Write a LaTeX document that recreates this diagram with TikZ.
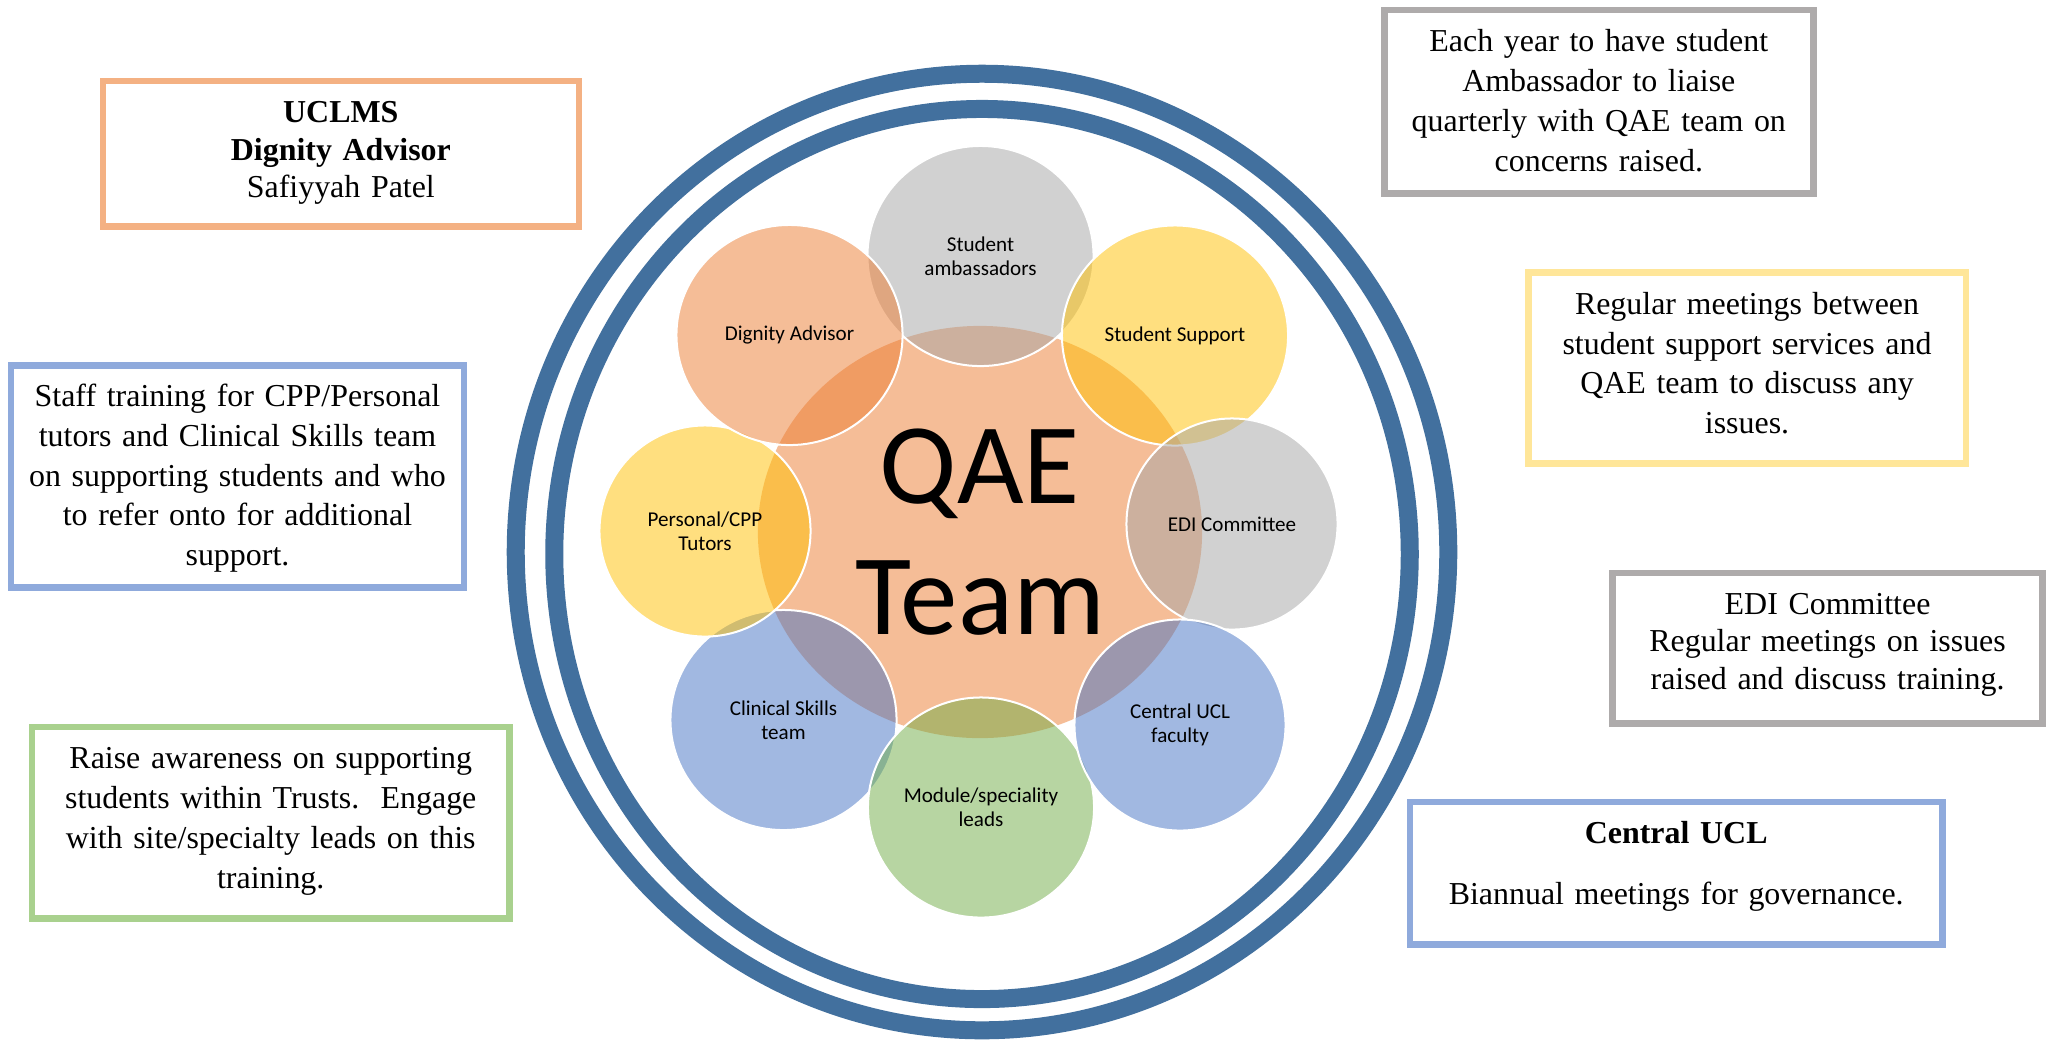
\documentclass[tikz,border=0pt]{standalone}
\usepackage{fontspec}
\usepackage{xcolor}
\usetikzlibrary{shapes.geometric}
\setmainfont{Liberation Serif}
\newfontfamily\carlito{Carlito}

\definecolor{ringblue}{HTML}{42709E}
\definecolor{acorange}{HTML}{ED7D31}
\definecolor{acgray}{HTML}{A5A5A5}
\definecolor{acgold}{HTML}{FFC000}
\definecolor{acblue}{HTML}{4472C4}
\definecolor{acgreen}{HTML}{70AD47}
\definecolor{lineorange}{HTML}{F4B183}
\definecolor{lineblue}{HTML}{8FAADC}
\definecolor{linegreen}{HTML}{A9D18E}
\definecolor{linegray}{HTML}{AEABAB}
\definecolor{lineyellow}{HTML}{FFE699}

\tikzstyle{note box}=[
    draw,
    line width = 1.88pt,
    fill = white,
    inner sep = 0pt,
    align = center,
    text height = 0.415cm,
    font = \fontsize{9.08pt}{11.3pt}\selectfont
]
\tikzstyle{ring}=[
    draw = ringblue,
    line width = 5.12pt
]

\begin{document}
\begin{tikzpicture}[x=0.01cm, y=-0.01cm,
    bubble/.style = {ellipse, draw = white, line width = 0.57pt, fill opacity = 0.5, text opacity = 1,
        align = center, inner sep = 0pt, font = \carlito\fontsize{6pt}{6.83pt}\selectfont},
    bigbubble/.style = {bubble, minimum width = 2.26cm, minimum height = 2.2cm},
    smallbubble/.style = {bubble, minimum width = 2.11cm, minimum height = 2.11cm}]
        \useasboundingbox (0,0) rectangle (2049,1041);
        \fill[white] (0,0) rectangle (2049,1041);

        \draw[ring] (982,552) ellipse [x radius = 4.66cm, y radius = 4.78cm];
        \draw[ring] (982,554) ellipse [x radius = 4.275cm, y radius = 4.448cm];

        \node[ellipse, fill = acorange, fill opacity = 0.5, text opacity = 1, align = center,
            minimum width = 4.44cm, minimum height = 4.12cm,
            font = \carlito\fontsize{32.7pt}{37.44pt}\selectfont] (qae) at (980,532) {QAE\\Team};

        \node[bigbubble, fill = acgray] (ambassadors) at (980.5,256) {Student\\ambassadors};
        \node[bigbubble, fill = acgold] (support) at (1175,335.5) {Student Support};
        \node[smallbubble, fill = acgray] (edi) at (1232,524) {EDI Committee};
        \node[bigbubble, fill = acblue] (clinical) at (783.5,720) {Clinical Skills\\team};
        \node[bigbubble, fill = acgreen] (module) at (981,807.5) {Module/speciality\\leads};
        \node[smallbubble, fill = acblue] (faculty) at (1180,725) {Central UCL\\faculty};
        \node[smallbubble, fill = acgold] (tutors) at (705,531) {Personal/CPP\\Tutors};
        \node[bigbubble, fill = acorange] (dignity) at (789.5,335) {Dignity Advisor};

        \node[note box, draw = lineorange, text width = 4.757cm, text depth = 1.042cm,
            font = \fontsize{9.08pt}{10.67pt}\selectfont] (uclms) at (340.85,153.85)
            {\textbf{UCLMS}\\\textbf{Dignity Advisor}\\Safiyyah Patel};
        \node[note box, draw = lineblue, text width = 4.524cm, text depth = 1.809cm] (staff) at (237.5,476.5)
            {Staff training for CPP/Personal\\tutors and Clinical Skills team\\on supporting students and who\\to refer onto for additional\\support.};
        \node[note box, draw = linegreen, text width = 4.769cm, text depth = 1.497cm,
            font = \fontsize{9.08pt}{11.38pt}\selectfont] (trusts) at (270.75,822.6)
            {Raise awareness on supporting\\students within Trusts.\ \ Engage\\with site/specialty leads on this\\training.};
        \node[note box, draw = linegray, text width = 4.29cm, text depth = 1.417cm,
            font = \fontsize{9.08pt}{11.38pt}\selectfont] (ambassador) at (1598.8,101.6)
            {Each year to have student\\Ambassador to liaise\\quarterly with QAE team on\\concerns raised.};
        \node[note box, draw = lineyellow, text width = 4.374cm, text depth = 1.494cm] (services) at (1747,368.25)
            {Regular meetings between\\student support services and\\QAE team to discuss any\\issues.};
        \node[note box, draw = linegray, text width = 4.295cm, text depth = 1.093cm,
            font = \fontsize{9.08pt}{10.67pt}\selectfont] (committee) at (1827.55,648.3)
            {EDI Committee\\Regular meetings on issues\\raised and discuss training.};
        \node[note box, draw = lineblue, text width = 5.318cm, text depth = 1.013cm,
            font = \fontsize{9.08pt}{10.67pt}\selectfont] (central) at (1676.2,873.3)
            {\textbf{Central UCL}\\[6.7pt]Biannual meetings for governance.};

    \end{tikzpicture}
\end{document}
